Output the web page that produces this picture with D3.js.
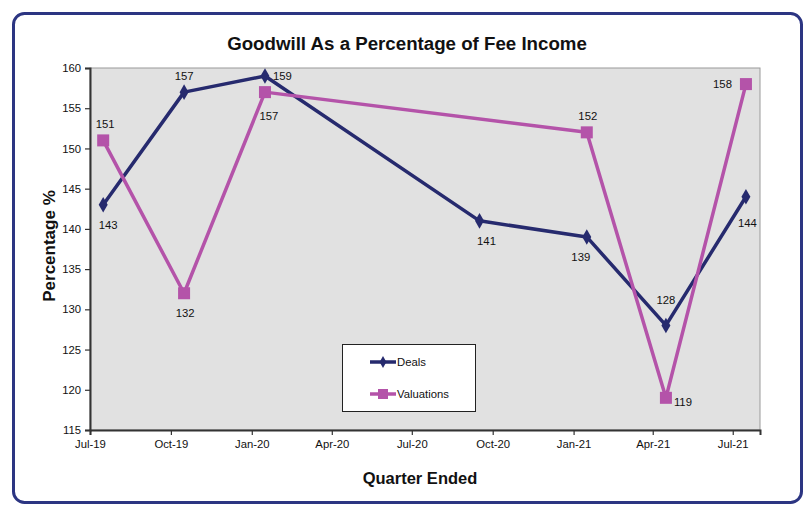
<!DOCTYPE html>
<html><head><meta charset="utf-8">
<script src="https://cdn.jsdelivr.net/npm/d3@7"></script>
<style>
html,body{margin:0;padding:0;background:#fff;}
text{font-family:"Liberation Sans",Arial,sans-serif;}
</style></head>
<body>
<svg id="c" width="805" height="507"></svg>
<script>
// ---- data ----
const dealDates = ["2019-07-16","2019-10-16","2020-01-16","2020-09-16","2021-01-16","2021-04-16","2021-07-16"];
const dealValues = [143,157,159,141,139,128,144];
const valDates = ["2019-07-16","2019-10-16","2020-01-16","2021-01-16","2021-04-16","2021-07-16"];
const valValues = [151,132,157,152,119,158];
const xTickDates = ["2019-07-01","2019-10-01","2020-01-01","2020-04-01","2020-07-01","2020-10-01","2021-01-01","2021-04-01","2021-07-01"];
const yTicks = [115,120,125,130,135,140,145,150,155,160];
const seriesNames = ["Deals","Valuations"];
const titleText = "Goodwill As a Percentage of Fee Income";

// label placement (style)
const dealPlace = ["below","above","right","below","below","abovehigh","rightlow"];
const dealShift = [5,0,0,7,-6,0,0];
const valPlace = ["above","below","belowlow","above","right","left"];
const valShift = [2,1,4,1,0,0];

const parse = d3.timeParse("%Y-%m-%d");
const fmt = d3.timeFormat("%b-%y");
const svg = d3.select("#c");
const cDeal = "#262a6e", cVal = "#b453a9";

// outer frame
svg.append("rect").attr("x",13.5).attr("y",13.5).attr("width",788).attr("height",489)
  .attr("rx",11).attr("fill","#fff").attr("stroke","#2c3582").attr("stroke-width",3);

const L=90, R=760, T=68, B=430;
const x = d3.scaleTime().domain([parse("2019-07-01"), parse("2021-08-01")]).range([L,R]);
const y = d3.scaleLinear().domain([115,160]).range([B,T]);

svg.append("rect").attr("x",L).attr("y",T).attr("width",R-L).attr("height",B-T)
  .attr("fill","#e1e1e1").attr("stroke","#9a9a9a").attr("stroke-width",1);

// axes
const xAxis = d3.axisBottom(x).tickValues(xTickDates.map(parse)).tickFormat(fmt).tickSizeOuter(0).tickSize(5).tickPadding(5);
const gx = svg.append("g").attr("transform",`translate(0,${B})`).call(xAxis);
const yAxis = d3.axisLeft(y).tickValues(yTicks).tickSizeOuter(0).tickSize(5).tickPadding(4);
const gy = svg.append("g").attr("transform",`translate(${L},0)`).call(yAxis);
[gx,gy].forEach(g=>{
  g.select(".domain").attr("stroke","#333").attr("stroke-width",2);
  g.selectAll(".tick line").attr("stroke","#333").attr("stroke-width",1.2);
  g.selectAll(".tick text").attr("fill","#111").attr("font-size",11.3).attr("font-family","Liberation Sans, Arial, sans-serif");
});

const line = d3.line().x(d=>x(d.date)).y(d=>y(d.v));
const deals = dealDates.map((d,i)=>({date:parse(d), v:dealValues[i], p:dealPlace[i], s:dealShift[i]}));
const vals = valDates.map((d,i)=>({date:parse(d), v:valValues[i], p:valPlace[i], s:valShift[i]}));

svg.append("path").datum(deals).attr("d",line).attr("fill","none").attr("stroke",cDeal).attr("stroke-width",3.5).attr("stroke-linejoin","round");
svg.append("path").datum(vals).attr("d",line).attr("fill","none").attr("stroke",cVal).attr("stroke-width",3.5).attr("stroke-linejoin","round");

const diamond = d3.symbol().type(d3.symbolDiamond).size(70);
svg.selectAll(".dm").data(deals).join("path").attr("d",diamond)
  .attr("transform",d=>`translate(${x(d.date)},${y(d.v)})`).attr("fill",cDeal);
svg.selectAll(".sq").data(vals).join("rect")
  .attr("x",d=>x(d.date)-6).attr("y",d=>y(d.v)-6).attr("width",12).attr("height",12).attr("fill",cVal);

function addLabels(data){
  data.forEach(d=>{
    const px=x(d.date), py=y(d.v);
    let tx=px, ty=py, anchor="middle";
    if(d.p==="above"){ty=py-12;}
    else if(d.p==="abovehigh"){ty=py-21;}
    else if(d.p==="below"){ty=py+24;}
    else if(d.p==="belowlow"){ty=py+28;}
    else if(d.p==="right"){tx=px+8; ty=py+8; anchor="start"; if(d.v===159){ty=py+4;}}
    else if(d.p==="rightlow"){tx=px-8; ty=py+30; anchor="start";}
    else if(d.p==="left"){tx=px-14; ty=py+4; anchor="end";}
    svg.append("text").attr("x",tx+d.s).attr("y",ty).attr("text-anchor",anchor)
      .attr("font-size",11.3).attr("fill","#111").text(d.v);
  });
}
addLabels(deals); addLabels(vals);

// legend
const lg = svg.append("g");
lg.append("rect").attr("x",342.5).attr("y",344.5).attr("width",133).attr("height",67)
  .attr("fill","#fff").attr("stroke","#222").attr("stroke-width",1);
const ly=[362,394];
seriesNames.forEach((n,i)=>{
  const c = i===0?cDeal:cVal;
  lg.append("line").attr("x1",370).attr("x2",396).attr("y1",ly[i]).attr("y2",ly[i]).attr("stroke",c).attr("stroke-width",3.5);
  if(i===0) lg.append("path").attr("d",d3.symbol().type(d3.symbolDiamond).size(40)).attr("transform",`translate(383,${ly[i]})`).attr("fill",c);
  else lg.append("rect").attr("x",378).attr("y",ly[i]-5).attr("width",10).attr("height",10).attr("fill",c);
  lg.append("text").attr("x",397).attr("y",ly[i]+4).attr("font-size",11.3).attr("fill","#111").text(n);
});

// titles
svg.append("text").attr("x",407).attr("y",50).attr("text-anchor","middle").attr("font-size",18.7).attr("font-weight","bold").attr("fill","#111").text(titleText);
svg.append("text").attr("transform","translate(55,246) rotate(-90)").attr("text-anchor","middle").attr("font-size",17).attr("font-weight","bold").attr("fill","#111").text("Percentage %");
svg.append("text").attr("x",420).attr("y",484).attr("text-anchor","middle").attr("font-size",16.5).attr("font-weight","bold").attr("fill","#111").text("Quarter Ended");
</script>
</body></html>
